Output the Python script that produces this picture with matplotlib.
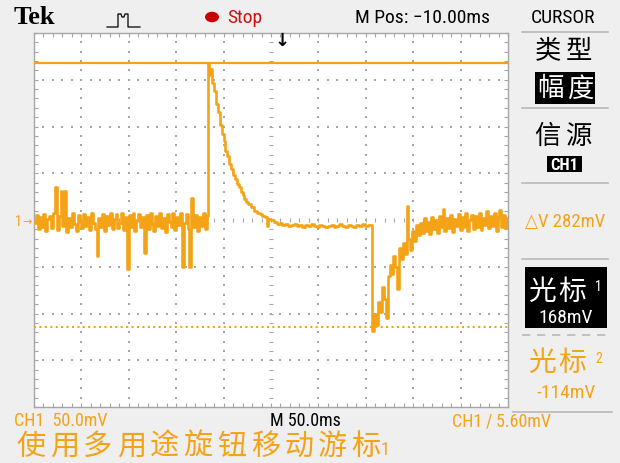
import matplotlib
matplotlib.use('Agg')
import matplotlib.pyplot as plt
import numpy as np
from matplotlib.patches import Rectangle, Circle
from matplotlib.lines import Line2D
from matplotlib import font_manager

W, H = 620, 464

# ---------------- data (time in ms across the screen, volts in mV) ----------------
base_step = 2.0
baseline_mv = [-3, 5, -10, 3, -8, 6, -12, 1, 4, -9, 7, 35, -11, 4, 31, -6, 31, -13, 2, -7,
               8, -4, -12, 5, -2, -9, 6, -6, 3, -11, 7, -3, -10, -38, 2, -8, 6, -12, 4, -5,
               8, -10, 1, 6, -9, -3, 7, -11, 3, -52, 5, -7, 8, -12, 0, 6, -8, 3, -35, 5,
               -10, 7, -4, -12, 4, -6, 8, -9, 2, -13, 6, -2, -8, 7, -11, 3, -5, 8, -50, -3,
               6, -10, -50, 24, -8, 5, -12, 3, -6, 7, -10, 4]

decay_t = [183.5, 185, 186.5, 188, 190, 192, 194, 196, 198, 200, 202, 204, 206, 208, 210,
           212, 214, 216, 218, 220, 222, 224, 226, 229, 232, 235, 238, 241, 244, 246, 247,
           250, 253, 256, 259, 262, 265, 268, 271, 274, 277, 280, 283, 286, 289, 292, 295,
           298, 301, 304, 307, 310, 313, 316, 319, 322, 325, 328, 331, 334, 337, 340, 343,
           346, 349, 352, 355, 356.5]
decay_mv = [168, 155, 162, 146, 138, 124, 116, 102, 92, 84, 74, 68, 60, 55, 48,
            44, 38, 35, 30, 27, 22, 19, 17, 14, 10, 8, 6, 4, 3, -6, 1,
            0, -2, -4, -3, -5, -4, -6, -5, -4, -6, -5, -7, -5, -6, -4, -6,
            -7, -5, -6, -8, -6, -5, -7, -6, -4, -6, -7, -5, -6, -7, -5, -6,
            -4, -6, -5, -5, -5]

recovery_start = 357.0
recovery_mv = [-119, -100, -112, -88, -98, -72, -84, -105, -60, -48, -58, -38, -50, -74, -30,
               -42, -25, -36, 15, -20, -32, -12, -22, -5, -16, -3, -14, 2, -12, -2, -15, 3,
               -10, 0, -14, 4, -8, 12, -12, 2, -9, 5, -13, 1, -6, 6, -11, 3, -8, 7, -12, 0,
               5, -10, 4, -7, 8, -11, 2, -5, 10, -9, 4, -6, 8, -12, 3, 11, -7, 5, -9, 2]

cursor1_mv = 168
cursor2_mv = -114
delta_label = "△V 282mV"
cursor1_label = "168mV"
cursor2_label = "-114mV"
ch_scale = "CH1  50.0mV"
time_scale = "M 50.0ms"
trig_label = "CH1 ∕ 5.60mV"
mpos_label = "M Pos: −10.00ms"

# ---------------- build trace ----------------
base_t = np.arange(len(baseline_mv)) * base_step
rec_t = recovery_start + np.arange(len(recovery_mv)) * base_step
t_all = np.concatenate([base_t, decay_t, rec_t, [500.0]])
v_all = np.concatenate([baseline_mv, decay_mv, recovery_mv, [recovery_mv[-1]]])

ORANGE = '#f5a316'
GRID = '#a6a6a6'
BG = '#efefef'

# pick a narrow font if available
names = {f.name for f in font_manager.fontManager.ttflist}
NARROW_FAMILY = None
for cand in ['Liberation Sans Narrow', 'Roboto Condensed', 'DejaVu Sans Condensed', 'Open Sans Condensed']:
    if cand in names:
        NARROW_FAMILY = cand
        break
condensed_dejavu = any(f.name == 'DejaVu Sans' and str(f.stretch) in ('condensed', '300')
                       for f in font_manager.fontManager.ttflist)
if NARROW_FAMILY is None:
    NARROW_FAMILY = 'DejaVu Sans'
NARROW = [NARROW_FAMILY, 'DejaVu Sans']
NARROW_KW = dict(family=NARROW, fontstretch='condensed')
SCALE = 1.0 if (NARROW_FAMILY != 'DejaVu Sans' or condensed_dejavu) else 0.88

fig = plt.figure(figsize=(W / 100, H / 100), dpi=100, facecolor=BG)
ax = fig.add_axes([34 / W, 1 - 408 / H, 474 / W, 374 / H])
ax.set_facecolor('white')
ax.set_xlim(0, 500)
ax.set_ylim(-200, 200)
for sp in ax.spines.values():
    sp.set_color(GRID)
    sp.set_linewidth(1.0)
ax.set_xticks(np.arange(0, 501, 10))
ax.set_yticks(np.arange(-200, 201, 10))
ax.tick_params(direction='in', length=3, width=0.8, color=GRID, top=True, right=True,
               labelbottom=False, labelleft=False)

# graticule dots
ydots = np.arange(-190, 191, 10)
xdots = np.arange(10, 491, 10)
for xv in range(50, 500, 50):
    if xv == 250:
        continue
    ax.scatter(np.full(len(ydots), xv), ydots, s=2, c=GRID, marker='s', linewidths=0, zorder=1)
for yv in range(-150, 200, 50):
    if yv == 0:
        continue
    ax.scatter(xdots, np.full(len(xdots), yv), s=2, c=GRID, marker='s', linewidths=0, zorder=1)
ax.scatter(np.full(len(ydots), 250), ydots, s=12, c=GRID, marker='_', linewidths=0.8, zorder=1)
ax.scatter(xdots, np.zeros(len(xdots)), s=12, c=GRID, marker='|', linewidths=0.8, zorder=1)

# cursors
ax.axhline(cursor1_mv, color=ORANGE, lw=1.6, zorder=4)
ax.axhline(cursor2_mv, color=ORANGE, lw=1.5, ls=(0, (1, 1.6)), zorder=4)

# trace
ax.plot(t_all, v_all, color=ORANGE, lw=1.9, drawstyle='steps-post', zorder=5)


# ---------------- text helpers ----------------
def ftext(x, y, s, **kw):
    kw.setdefault('va', 'center')
    return fig.text(x / W, 1 - y / H, s, **kw)


def ntext(x, y, s, size, **kw):
    return ftext(x, y, s, fontsize=size * SCALE, **NARROW_KW, **kw)


CJK = ['Noto Sans CJK SC', 'DejaVu Sans']


def cjk(x0, y, s, pitch, size, color, weight='normal'):
    for i, ch in enumerate(s):
        ftext(x0 + pitch * (i + 0.5), y, ch, ha='center', family=CJK, fontsize=size,
              color=color, weight=weight)


def hline(x0, x1, y, **kw):
    fig.add_artist(Line2D([x0 / W, x1 / W], [1 - y / H, 1 - y / H], transform=fig.transFigure, **kw))


def rect(x0, y0, x1, y1, color):
    fig.add_artist(Rectangle((x0 / W, 1 - y1 / H), (x1 - x0) / W, (y1 - y0) / H,
                             transform=fig.transFigure, facecolor=color, edgecolor='none'))


# ---------------- top bar ----------------
ftext(14, 18, 'Tek', family=['Liberation Serif', 'DejaVu Serif'], weight='bold', fontsize=19, color='black')
icon_x = [107, 118, 118, 121, 122, 124, 125, 128, 128, 140]
icon_y = [28, 28, 15, 15, 18, 18, 15, 15, 28, 28]
fig.add_artist(Line2D([v / W for v in icon_x], [1 - v / H for v in icon_y], transform=fig.transFigure,
                      color='black', lw=0.9))
fig.add_artist(Circle((212 / W, 1 - 18 / H), 7 / W, transform=fig.transFigure, facecolor='#cc0000',
                      edgecolor='none'))
ntext(227, 18, 'Stop', 14, color='#cc1111')
ntext(355, 18, mpos_label, 14, color='black')
ntext(531, 18, 'CURSOR', 14, color='black')
ftext(282, 41, '↓', ha='center', fontsize=13, weight='bold', color='black')

# channel marker
ntext(15, 222, '1', 10, color=ORANGE)
ftext(22, 222, '→', fontsize=8, color=ORANGE)

# ---------------- right menu ----------------
SEP = '#b8b8b8'
for yy in (33, 109, 184, 260):
    hline(522, 608, yy, color=SEP, lw=1.2)
hline(522, 608, 336, color=SEP, lw=1.2, ls=(0, (5, 4)))
hline(513, 612, 413, color=SEP, lw=1.2)

cjk(532, 51, '类型', 31.5, 19, 'black')
rect(535, 73, 595, 105, 'black')
cjk(535, 89, '幅度', 30, 19, 'white')
cjk(532, 136, '信源', 31.5, 19, 'black')
rect(547, 157, 582, 173, 'black')
ntext(564.5, 165, 'CH1', 12, ha='center', weight='bold', color='white')
ntext(565, 222, delta_label, 13.5, ha='center', color=ORANGE)

rect(525, 268, 607, 329, 'black')
cjk(526, 292, '光标', 31, 20, 'white')
ntext(595, 287, '1', 10, color='white')
ntext(566, 318, cursor1_label, 14, ha='center', color='white')

cjk(526, 363, '光标', 31, 20, ORANGE)
ntext(595, 359, '2', 10, color=ORANGE)
ntext(566, 393, cursor2_label, 14, ha='center', color=ORANGE)

# ---------------- bottom ----------------
ntext(14, 421, ch_scale, 13, color=ORANGE)
ntext(270, 421, time_scale, 13, color='black')
ntext(452, 421, trig_label, 13, color=ORANGE)
cjk(14, 447, '使用多用途旋钮移动游标', 33.5, 21, ORANGE)
ntext(381, 450, '1', 13, color=ORANGE)

fig.savefig('out.png', dpi=100, facecolor=BG)
